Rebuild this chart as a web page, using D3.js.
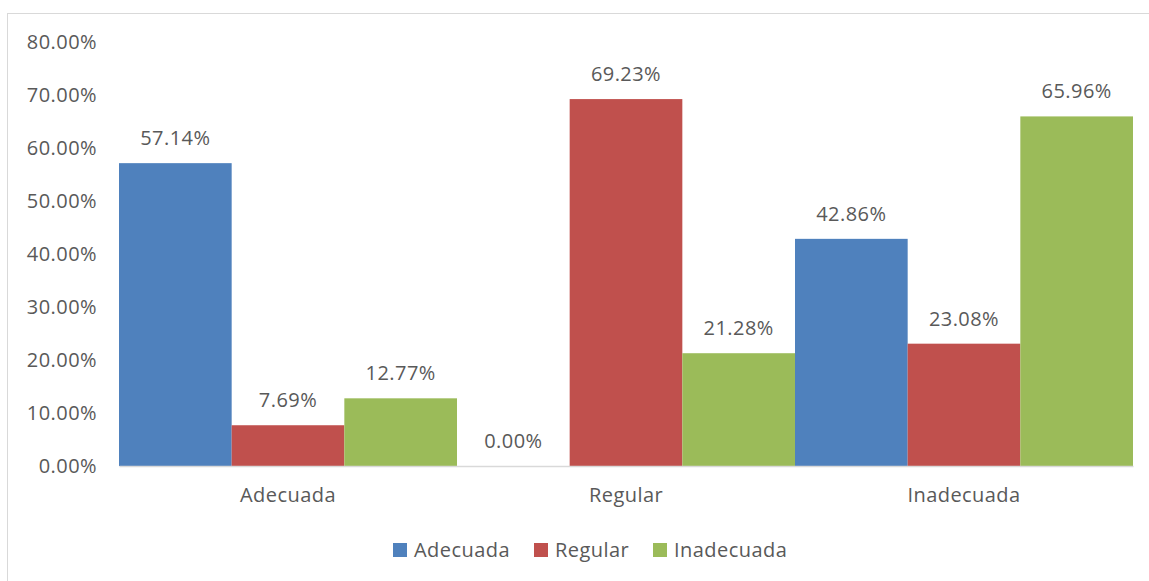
<!DOCTYPE html>
<html>
<head>
<meta charset="utf-8">
<script src="https://cdn.jsdelivr.net/npm/d3@7"></script>
<style>
  html, body { margin: 0; padding: 0; background: #fff; }
  svg { display: block; }
  text { font-family: "Open Sans", sans-serif; fill: #595959; letter-spacing: 0.45px; }
</style>
</head>
<body>
<svg id="chart" width="1149" height="581"></svg>
<script>
// Categories and series values (percent)
const categories = ["Adecuada", "Regular", "Inadecuada"];
const seriesNames = ["Adecuada", "Regular", "Inadecuada"];
const adecuada = [57.14, 0.00, 42.86];
const regular = [7.69, 69.23, 23.08];
const inadecuada = [12.77, 21.28, 65.96];
const yTicks = [0, 10, 20, 30, 40, 50, 60, 70, 80];
const colors = ["#4F81BD", "#C0504D", "#9BBB59"];

const seriesValues = [adecuada, regular, inadecuada];
const FS = 20;

const svg = d3.select("#chart");
const W = 1149, H = 581;

// Chart border
svg.append("rect")
  .attr("x", 7.5).attr("y", 13.5)
  .attr("width", W + 10).attr("height", H + 10)
  .attr("fill", "none").attr("stroke", "#D9D9D9").attr("stroke-width", 1);

const plot = { left: 119, right: 1133, top: 42, bottom: 466 };

const x0 = d3.scaleBand().domain(categories).range([plot.left, plot.right]).padding(0);
const x1 = d3.scaleBand().domain(seriesNames).range([0, x0.bandwidth()]).padding(0);
const y = d3.scaleLinear().domain([0, 80]).range([plot.bottom, plot.top]);

// Y axis labels (no axis line, no ticks)
const yAxis = d3.axisLeft(y).tickValues(yTicks)
  .tickFormat(d => d.toFixed(2) + "%").tickSize(0).tickPadding(22);
const yg = svg.append("g").attr("transform", `translate(${plot.left},0)`).call(yAxis);
yg.select(".domain").remove();
yg.selectAll("text").attr("font-size", FS).attr("font-family", "Open Sans, sans-serif").attr("fill", "#595959");

// Bars
const groups = svg.append("g").selectAll("g")
  .data(categories)
  .join("g")
  .attr("transform", d => `translate(${x0(d)},0)`);

groups.selectAll("rect")
  .data((c, i) => seriesNames.map((s, j) => ({ s, v: seriesValues[j][i], j })))
  .join("rect")
  .attr("x", d => x1(d.s))
  .attr("y", d => y(d.v))
  .attr("width", x1.bandwidth())
  .attr("height", d => y(0) - y(d.v))
  .attr("fill", d => colors[d.j]);

// Value labels
groups.selectAll("text.val")
  .data((c, i) => seriesNames.map((s, j) => ({ s, v: seriesValues[j][i], j })))
  .join("text")
  .attr("class", "val")
  .attr("x", d => x1(d.s) + x1.bandwidth() / 2)
  .attr("y", d => y(d.v) - 18)
  .attr("text-anchor", "middle")
  .attr("font-size", FS)
  .text(d => d.v.toFixed(2) + "%");

// X axis baseline and category labels
const xAxis = d3.axisBottom(x0).tickSize(0).tickPadding(22);
const xg = svg.append("g").attr("transform", `translate(0,${plot.bottom})`).call(xAxis);
xg.select(".domain").attr("stroke", "#D9D9D9").attr("stroke-width", 1.5);
xg.selectAll("text").attr("font-size", FS).attr("font-family", "Open Sans, sans-serif").attr("fill", "#595959");

// Legend
const legendItems = [
  { name: seriesNames[0], x: 393 },
  { name: seriesNames[1], x: 534 },
  { name: seriesNames[2], x: 653 }
];
const lg = svg.append("g");
legendItems.forEach((it, i) => {
  lg.append("rect").attr("x", it.x).attr("y", 543).attr("width", 14).attr("height", 14).attr("fill", colors[i]);
  lg.append("text").attr("x", it.x + 21).attr("y", 557).attr("font-size", FS).text(it.name);
});
</script>
</body>
</html>
